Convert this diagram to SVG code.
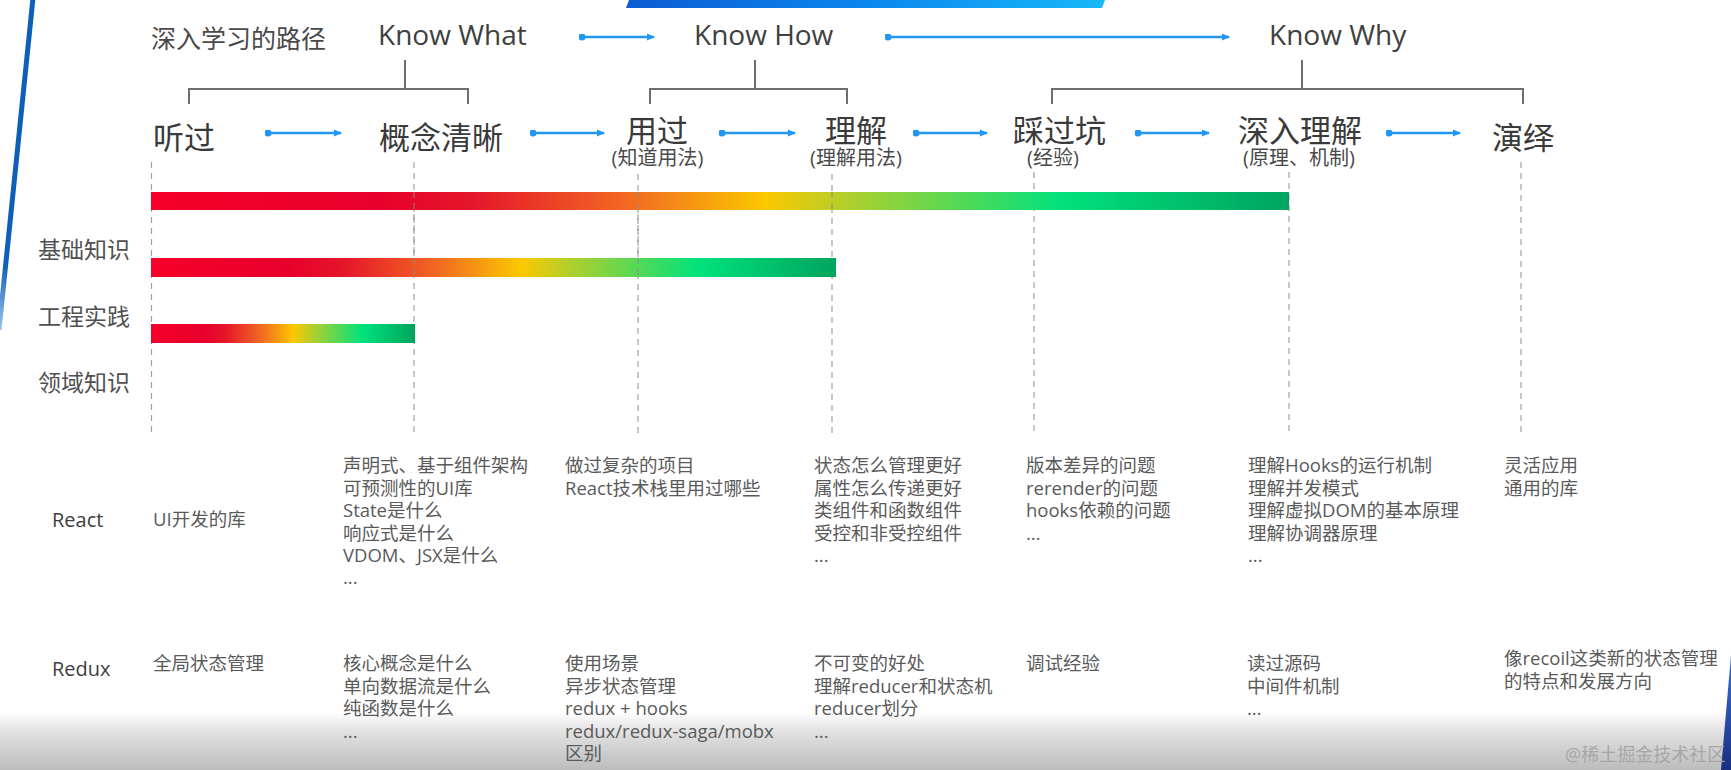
<svg xmlns="http://www.w3.org/2000/svg" width="1731" height="770" viewBox="0 0 1731 770">
<style>
text{font-family:"Open Sans","Noto Sans CJK SC",sans-serif}
.h1{font-size:25px;fill:#4a4a4a}
.kn{font-size:28px;fill:#404040}
.st{font-size:31px;fill:#3a3a3a}
.sub{font-size:20px;fill:#4a4a4a;text-anchor:middle}
.lbl{font-size:23px;fill:#505050}
.tech{font-size:20px;fill:#404040}
.body{font-size:18.5px;fill:#5a5a5a}
.wm{font-size:18px;fill:#a6a6a6}
.arr{stroke:#2196f3;stroke-width:2.5;fill:none;marker-start:url(#dot);marker-end:url(#ah)}
.br{stroke:#6e6e6e;stroke-width:2;fill:none}
.dash{stroke:#8a8a8a;stroke-width:1.2;stroke-dasharray:6 5;fill:none;opacity:0.8}
</style>
<defs>
<linearGradient id="bar" x1="0" y1="0" x2="1" y2="0">
<stop offset="0" stop-color="#f7002a"/>
<stop offset="0.2" stop-color="#e8002c"/>
<stop offset="0.28" stop-color="#e5152a"/>
<stop offset="0.42" stop-color="#f26a22"/>
<stop offset="0.54" stop-color="#fcc800"/>
<stop offset="0.62" stop-color="#a8d030"/>
<stop offset="0.8" stop-color="#00e27c"/>
<stop offset="1" stop-color="#00a45e"/>
</linearGradient>
<linearGradient id="topbar" x1="0" y1="0" x2="1" y2="0">
<stop offset="0" stop-color="#0d5cd4"/>
<stop offset="0.5" stop-color="#0a86ee"/>
<stop offset="1" stop-color="#18b8f8"/>
</linearGradient>
<linearGradient id="leftline" gradientUnits="userSpaceOnUse" x1="0" y1="0" x2="0" y2="330">
<stop offset="0" stop-color="#0d5fb8"/>
<stop offset="0.8" stop-color="#0d5fb8"/>
<stop offset="1" stop-color="#9cc4ee"/>
</linearGradient>
<linearGradient id="bottom" x1="0" y1="0" x2="0" y2="1">
<stop offset="0" stop-color="#ffffff"/>
<stop offset="0.3" stop-color="#e4e4e4"/>
<stop offset="1" stop-color="#bcbcbc"/>
</linearGradient>
<linearGradient id="corner" x1="0" y1="0" x2="0" y2="1">
<stop offset="0" stop-color="#3a72d4"/>
<stop offset="1" stop-color="#1a2f80"/>
</linearGradient>
<marker id="ah" viewBox="0 0 8 8" refX="7" refY="4" markerWidth="8" markerHeight="8" markerUnits="userSpaceOnUse" orient="auto">
<path d="M0,0.5 L8,4 L0,7.5 z" fill="#2196f3"/>
</marker>
<marker id="dot" viewBox="0 0 8 8" refX="4" refY="4" markerWidth="7" markerHeight="7" markerUnits="userSpaceOnUse">
<circle cx="4" cy="4" r="4" fill="#2196f3"/>
</marker>
</defs>

<rect width="1731" height="770" fill="#ffffff"/>
<rect x="0" y="712" width="1731" height="58" fill="url(#bottom)"/>

<g id="decor">
<polygon points="629,0 1105,0 1102,8 626,8" fill="url(#topbar)"/>
<line x1="33" y1="-2" x2="-1" y2="330" stroke="url(#leftline)" stroke-width="5"/>
<polygon points="1731,655 1731,770 1721,770" fill="url(#corner)"/>
</g>

<g id="title"><text class="h1" x="151" y="48">深入学习的路径</text></g>
<g id="know-what"><text class="kn" x="378" y="45">Know What</text></g>
<g id="know-how"><text class="kn" x="694" y="45">Know How</text></g>
<g id="know-why"><text class="kn" x="1269" y="45">Know Why</text></g>

<g id="stage-heard"><text class="st" x="153" y="149">听过</text></g>
<g id="stage-concept"><text class="st" x="379" y="149">概念清晰</text></g>
<g id="stage-used"><text class="st" x="626" y="142">用过</text><text class="sub" x="657.5" y="165">(知道用法)</text></g>
<g id="stage-understand"><text class="st" x="825" y="142">理解</text><text class="sub" x="856" y="165">(理解用法)</text></g>
<g id="stage-pitfall"><text class="st" x="1013" y="142">踩过坑</text><text class="sub" x="1053" y="165">(经验)</text></g>
<g id="stage-deep"><text class="st" x="1238" y="142">深入理解</text><text class="sub" x="1299" y="165">(原理、机制)</text></g>
<g id="stage-deduce"><text class="st" x="1492" y="149">演绎</text></g>

<g id="guides">
<path class="dash" d="M151.5,162 V433 M414,162 V433 M638,174 V433 M832,174 V433 M1034,172 V433 M1289,172 V433 M1521,162 V433"/>
</g>

<g id="bar-overall"><rect x="151" y="192" width="1138" height="18" fill="url(#bar)"/></g>
<g id="bar-basic"><rect x="151" y="258" width="685" height="19" fill="url(#bar)"/><text class="lbl" x="38" y="258">基础知识</text></g>
<g id="bar-engineering"><rect x="151" y="324" width="264" height="19" fill="url(#bar)"/><text class="lbl" x="38" y="325">工程实践</text></g>
<g id="domain"><text class="lbl" x="38" y="391">领域知识</text></g>

<g id="guides-over">
<path class="dash" opacity="0.4" d="M414,192 V277 M638,192 V277 M832,192 V210"/>
</g>

<g id="connectors">
<path class="arr" d="M582,37 H654"/>
<path class="arr" d="M888,37 H1229"/>
<path class="arr" d="M268,133 H341"/>
<path class="arr" d="M533,133 H604"/>
<path class="arr" d="M722,133 H795"/>
<path class="arr" d="M916,133 H987"/>
<path class="arr" d="M1138,133 H1209"/>
<path class="arr" d="M1389,133 H1460"/>
<path class="br" d="M189,104 V89 H468 V104 M405,89 V60"/>
<path class="br" d="M650,104 V89 H847 V104 M755,89 V60"/>
<path class="br" d="M1052,104 V89 H1523 V104 M1302,89 V60"/>
</g>

<g id="row-react">
<text class="tech" x="52" y="527">React</text>
<text class="body" x="153" y="526">UI开发的库</text>
<text class="body" x="343"><tspan x="343" y="472">声明式、基于组件架构</tspan><tspan x="343" y="494.5">可预测性的UI库</tspan><tspan x="343" y="517">State是什么</tspan><tspan x="343" y="539.5">响应式是什么</tspan><tspan x="343" y="562">VDOM、JSX是什么</tspan><tspan x="343" y="584">...</tspan></text>
<text class="body" x="565"><tspan x="565" y="472">做过复杂的项目</tspan><tspan x="565" y="494.5">React技术栈里用过哪些</tspan></text>
<text class="body" x="814"><tspan x="814" y="472">状态怎么管理更好</tspan><tspan x="814" y="494.5">属性怎么传递更好</tspan><tspan x="814" y="517">类组件和函数组件</tspan><tspan x="814" y="539.5">受控和非受控组件</tspan><tspan x="814" y="562">...</tspan></text>
<text class="body" x="1026"><tspan x="1026" y="472">版本差异的问题</tspan><tspan x="1026" y="494.5">rerender的问题</tspan><tspan x="1026" y="517">hooks依赖的问题</tspan><tspan x="1026" y="539.5">...</tspan></text>
<text class="body" x="1248"><tspan x="1248" y="472">理解Hooks的运行机制</tspan><tspan x="1248" y="494.5">理解并发模式</tspan><tspan x="1248" y="517">理解虚拟DOM的基本原理</tspan><tspan x="1248" y="539.5">理解协调器原理</tspan><tspan x="1248" y="562">...</tspan></text>
<text class="body" x="1504"><tspan x="1504" y="472">灵活应用</tspan><tspan x="1504" y="494.5">通用的库</tspan></text>
</g>

<g id="row-redux">
<text class="tech" x="52" y="676">Redux</text>
<text class="body" x="153" y="670">全局状态管理</text>
<text class="body" x="343"><tspan x="343" y="670">核心概念是什么</tspan><tspan x="343" y="692.5">单向数据流是什么</tspan><tspan x="343" y="715">纯函数是什么</tspan><tspan x="343" y="737.5">...</tspan></text>
<text class="body" x="565"><tspan x="565" y="670">使用场景</tspan><tspan x="565" y="692.5">异步状态管理</tspan><tspan x="565" y="715">redux + hooks</tspan><tspan x="565" y="737.5">redux/redux-saga/mobx</tspan><tspan x="565" y="760">区别</tspan></text>
<text class="body" x="814"><tspan x="814" y="670">不可变的好处</tspan><tspan x="814" y="692.5">理解reducer和状态机</tspan><tspan x="814" y="715">reducer划分</tspan><tspan x="814" y="737.5">...</tspan></text>
<text class="body" x="1026" y="670">调试经验</text>
<text class="body" x="1247"><tspan x="1247" y="670">读过源码</tspan><tspan x="1247" y="692.5">中间件机制</tspan><tspan x="1247" y="715">...</tspan></text>
<text class="body" x="1504"><tspan x="1504" y="665">像recoil这类新的状态管理</tspan><tspan x="1504" y="687.5">的特点和发展方向</tspan></text>
</g>

<g id="watermark"><text class="wm" x="1565" y="761">@稀土掘金技术社区</text></g>
</svg>
